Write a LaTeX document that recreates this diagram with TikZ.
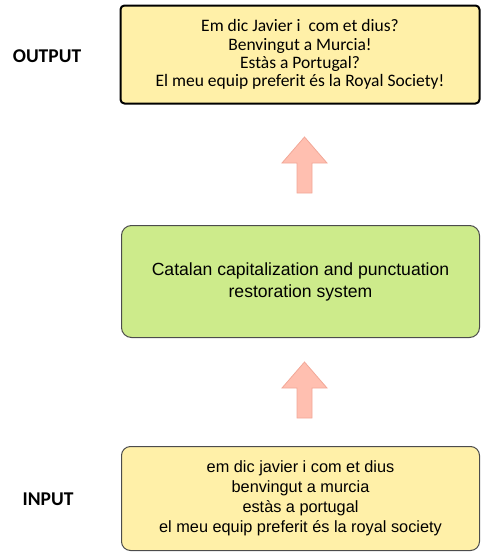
\documentclass[tikz,border=0pt]{standalone}
\usepackage{fontspec}
\setmainfont{Liberation Sans}
\newfontfamily\calibri{Carlito}
\definecolor{boxyellow}{HTML}{FFF0A8}
\definecolor{boxgreen}{HTML}{CDEB8B}
\definecolor{arrowpink}{HTML}{FFBFB0}
\definecolor{arrowedge}{HTML}{F2A898}
\begin{document}
\begin{tikzpicture}[
            x=1pt, y=-1pt,
            out-box/.style={rectangle,draw=black,line width=2pt,rounded corners=4pt,fill=boxyellow,
                minimum width=359pt,minimum height=98pt,align=center,font=\calibri\fontsize{17.5}{18.2}\selectfont},
            sys-box/.style={rectangle,draw=black!70,line width=1pt,rounded corners=10pt,fill=boxgreen,
                minimum width=358pt,minimum height=112pt,align=center,font=\fontsize{17.6}{22}\selectfont},
            in-box/.style={rectangle,draw=black!70,line width=1pt,rounded corners=9pt,fill=boxyellow,
                minimum width=358pt,minimum height=104pt,align=center,font=\fontsize{16.3}{20}\selectfont},
            side-label/.style={font=\calibri\bfseries\fontsize{19.5}{20}\selectfont},
            up-arrow/.style={fill=arrowpink,draw=arrowedge,line width=0.8pt},
        ]
            \useasboundingbox (0,0) rectangle (481,554);
            \node[out-box] (output) at (300,54.5) {Em dic Javier i\ \ com et dius?\\Benvingut a Murcia!\\Estàs a Portugal?\\El meu equip preferit és la Royal Society!};
            \node[sys-box] (system) at (300.5,281.5) {Catalan capitalization and punctuation\\restoration system};
            \node[in-box] (input) at (300.5,498.5) {em dic javier i com et dius\\benvingut a murcia\\estàs a portugal\\el meu equip preferit és la royal society};
            \node[side-label] (outlabel) at (47,56) {OUTPUT};
            \node[side-label] (inlabel) at (48,499) {INPUT};
            % block arrows between the boxes
            \foreach \dy in {0,225}
                \draw[up-arrow] (304.5,137+\dy) -- (327,163+\dy) -- (312,163+\dy) -- (312,193+\dy)
                    -- (297,193+\dy) -- (297,163+\dy) -- (282,163+\dy) -- cycle;
        \end{tikzpicture}
\end{document}
